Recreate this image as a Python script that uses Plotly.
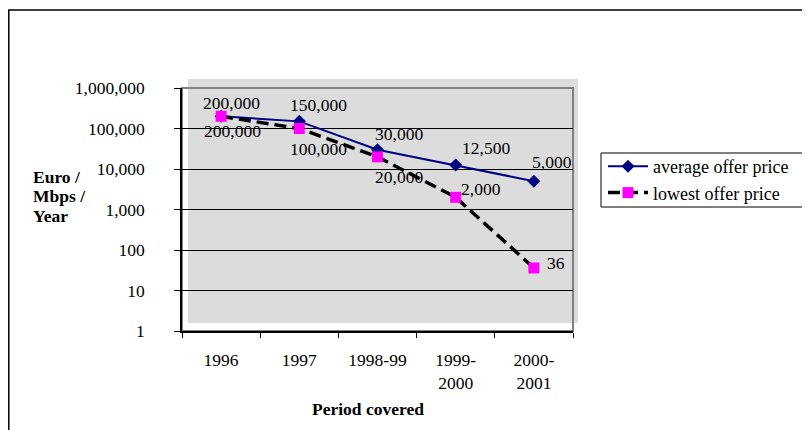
import math
import plotly.graph_objects as go

categories = ["1996", "1997", "1998-99", "1999-<br>2000", "2000-<br>2001"]
average_offer = [200000, 150000, 30000, 12500, 5000]
lowest_offer = [200000, 100000, 20000, 2000, 36]
y_tick_values = [1, 10, 100, 1000, 10000, 100000, 1000000]
y_tick_labels = ["1", "10", "100", "1,000", "10,000", "100,000", "1,000,000"]

# label offsets (pixels) for the data labels
avg_label_shift = [(10, 13), (19, 16), (21, 16), (30, 17), (18, 19)]
low_label_shift = [(11, -15), (19, -20), (21, -20), (25, 8), (22, 5)]

FONT = "Liberation Serif, Times New Roman, serif"
FS = 17.5

# page offset: the html body adds 8px margin, plot area spans page px x 182..573, y 88..331
def px_x(p):
    return (p - 182) / 391

def px_y(p):
    return (331 - p) / 243

fig = go.Figure()
fig.add_trace(go.Scatter(
    x=categories, y=average_offer, name="average offer price",
    mode="lines+markers",
    line=dict(color="#000080", width=2),
    marker=dict(symbol="diamond", size=10, color="#000080"),
))
fig.add_trace(go.Scatter(
    x=categories, y=lowest_offer, name="lowest offer price",
    mode="lines+markers",
    line=dict(color="black", width=3.5, dash="12px,6px"),
    marker=dict(symbol="square", size=11, color="#FF00FF"),
))

annotations = []
for i, (v, (dx, dy)) in enumerate(zip(average_offer, avg_label_shift)):
    annotations.append(dict(x=i, y=math.log10(v), text=f"{v:,}", showarrow=False,
                            xshift=dx, yshift=dy, font=dict(family=FONT, size=FS, color="black")))
for i, (v, (dx, dy)) in enumerate(zip(lowest_offer, low_label_shift)):
    annotations.append(dict(x=i, y=math.log10(v), text=f"{v:,}", showarrow=False,
                            xshift=dx, yshift=dy, font=dict(family=FONT, size=FS, color="black")))

# axis titles
for line_text, yc in zip(["Euro /", "Mbps /", "Year"], [177, 196, 216]):
    annotations.append(dict(xref="paper", yref="paper", x=px_x(31), y=px_y(yc),
                            xanchor="left", yanchor="middle", align="left", showarrow=False,
                            text=f"<b>{line_text}</b>",
                            font=dict(family=FONT, size=FS, color="black")))
annotations.append(dict(xref="paper", yref="paper", x=px_x(368), y=px_y(409),
                        xanchor="center", yanchor="middle", showarrow=False,
                        text="<b>Period covered</b>",
                        font=dict(family=FONT, size=FS, color="black")))

shapes = [
    # offset gray plot-area fill
    dict(type="rect", xref="paper", yref="paper", layer="below",
         x0=px_x(188), x1=px_x(578), y0=px_y(323), y1=px_y(79),
         fillcolor="#dcdcdc", line=dict(width=0)),
    # gray frame of plot area
    dict(type="rect", xref="paper", yref="paper", layer="below",
         x0=0, x1=1, y0=0, y1=1,
         line=dict(color="#808080", width=2)),
    # outer chart border
    dict(type="rect", xref="paper", yref="paper", layer="below",
         x0=px_x(8.8), x1=px_x(840), y0=px_y(460), y1=px_y(10),
         line=dict(color="black", width=1.5)),
    # legend box
    dict(type="rect", xref="paper", yref="paper", layer="below",
         x0=px_x(601), x1=px_x(809), y0=px_y(207), y1=px_y(153),
         fillcolor="white", line=dict(color="black", width=1)),
]

fig.update_layout(
    width=810, height=430,
    margin=dict(l=174, r=245, t=80, b=107),
    paper_bgcolor="white", plot_bgcolor="rgba(0,0,0,0)",
    font=dict(family=FONT, size=FS, color="black"),
    showlegend=True,
    legend=dict(x=px_x(603), y=px_y(148), xanchor="left", yanchor="top",
                bgcolor="rgba(0,0,0,0)", borderwidth=0,
                font=dict(family=FONT, size=18, color="black"),
                tracegroupgap=0, itemwidth=40),
    annotations=annotations,
    shapes=shapes,
)
fig.update_xaxes(
    type="category", range=[-0.5, len(categories) - 0.5],
    showgrid=False, showline=True, linecolor="black", linewidth=2,
    ticks="outside", ticklen=5, tickcolor="black", tickson="boundaries",
    ticklabelstandoff=12, zeroline=False, tickangle=0,
    tickfont=dict(family=FONT, size=FS, color="black"),
)
fig.update_yaxes(
    type="log", range=[0, 6], showgrid=True, gridcolor="black", gridwidth=1,
    showline=True, linecolor="black", linewidth=1.5,
    ticks="outside", ticklen=6, tickcolor="black",
    tickvals=y_tick_values, ticktext=y_tick_labels,
    ticklabelstandoff=26, zeroline=False,
    tickfont=dict(family=FONT, size=FS, color="black"),
)

fig.write_html("out.html")
